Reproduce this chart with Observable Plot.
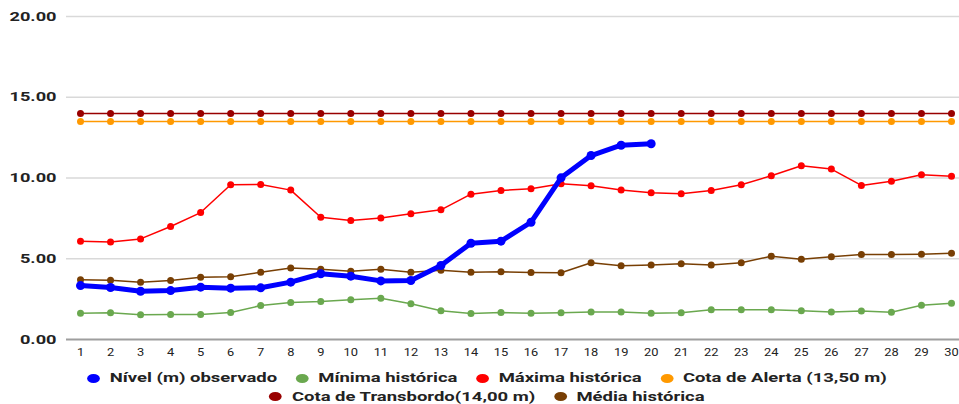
<!DOCTYPE html>
<html>
<head>
<meta charset="utf-8">
<script src="https://cdn.jsdelivr.net/npm/d3@7"></script>
<script src="https://cdn.jsdelivr.net/npm/@observablehq/plot@0.6"></script>
<style>
  html, body { margin: 0; padding: 0; background: #fff; }
  body { width: 959px; height: 404px; overflow: hidden; font-family: Roboto, "Noto Sans", sans-serif; }
  #chart svg { display: block; }
  .legend { width: 959px; text-align: center; font-weight: 700; font-size: 13px; color: #222; line-height: 18px;
            padding-top: 7px; transform: scaleX(1.42); transform-origin: 462px 0; }
  .legend .row { white-space: nowrap; }
  .legend .item { display: inline-flex; align-items: center; margin: 0 6.5px; }
  .legend .sw { width: 9px; height: 9px; border-radius: 50%; margin-right: 7px; display: inline-block; }
</style>
</head>
<body>
<div id="chart"></div>
<div class="legend" id="legend"></div>
<script>
const days = [1,2,3,4,5,6,7,8,9,10,11,12,13,14,15,16,17,18,19,20,21,22,23,24,25,26,27,28,29,30];
const observado = [3.34,3.22,2.99,3.03,3.24,3.18,3.20,3.55,4.07,3.92,3.63,3.65,4.58,5.96,6.09,7.26,10.01,11.39,12.03,12.12];
const minima = [1.63,1.65,1.53,1.55,1.55,1.67,2.10,2.29,2.35,2.46,2.56,2.21,1.78,1.61,1.67,1.63,1.65,1.71,1.71,1.63,1.65,1.84,1.84,1.84,1.78,1.71,1.76,1.69,2.12,2.25];
const maxima = [6.09,6.03,6.23,7.00,7.86,9.58,9.60,9.25,7.57,7.37,7.53,7.78,8.03,9.00,9.23,9.33,9.64,9.52,9.25,9.08,9.02,9.23,9.58,10.14,10.76,10.55,9.54,9.80,10.20,10.11];
const media = [3.70,3.67,3.55,3.65,3.86,3.88,4.17,4.42,4.35,4.23,4.35,4.17,4.29,4.17,4.19,4.15,4.13,4.75,4.56,4.62,4.69,4.62,4.75,5.16,4.97,5.12,5.26,5.26,5.28,5.34];
const cotaAlerta = 13.5;
const cotaTransbordo = 14.0;
const yTicks = [0, 5, 10, 15, 20];

const seriesNames = ["Nível (m) observado", "Mínima histórica", "Máxima histórica", "Cota de Alerta (13,50 m)", "Cota de Transbordo(14,00 m)", "Média histórica"];
const seriesColors = ["#0000ff", "#6aa84f", "#ff0000", "#ff9900", "#990000", "#783f04"];

function rows(values) { return values.map((v, i) => ({day: days[i], value: v})); }
const tables = {
  obs: rows(observado),
  min: rows(minima),
  max: rows(maxima),
  med: rows(media),
  alerta: rows(days.map(() => cotaAlerta)),
  transb: rows(days.map(() => cotaTransbordo))
};

function series(data, color, sw, r) {
  return [
    Plot.line(data, {x: "day", y: "value", stroke: color, strokeWidth: sw}),
    Plot.dot(data, {x: "day", y: "value", fill: color, r: r})
  ];
}

const chart = Plot.plot({
  width: 959,
  height: 362,
  marginLeft: 66,
  marginRight: 0,
  marginTop: 16,
  marginBottom: 23,
  style: {fontFamily: "Roboto, sans-serif", color: "#222"},
  x: {type: "linear", domain: [1, 30], insetLeft: 14, insetRight: 8, label: null},
  y: {domain: [0, 20], label: null},
  marks: [
    Plot.ruleY(yTicks.filter(d => d > 0), {stroke: "#d9d9d9", strokeWidth: 1.5}),
    Plot.ruleY([0], {stroke: "#9e9e9e", strokeWidth: 2}),
    Plot.axisY(yTicks, {tickSize: 0, tickPadding: 10, tickFormat: d3.format(".2f"), fontSize: 13, fontWeight: 700, fill: "#222", className: "yax"}),
    Plot.axisX(days, {tickSize: 0, tickPadding: 8, tickFormat: d => String(d), fontSize: 11.5, fill: "#222", className: "xax"}),
    ...series(tables.transb, seriesColors[4], 1.5, 3.5),
    ...series(tables.alerta, seriesColors[3], 1.5, 3.5),
    ...series(tables.min, seriesColors[1], 1.5, 3.5),
    ...series(tables.max, seriesColors[2], 1.5, 3.5),
    ...series(tables.med, seriesColors[5], 1.5, 3.5),
    ...series(tables.obs, seriesColors[0], 5, 4.5)
  ]
});
// the reference's text is horizontally stretched; widen the tick labels
chart.querySelectorAll("g.yax text").forEach(t => {
  t.setAttribute("transform", (t.getAttribute("transform") || "") + " scale(1.4,1)");
});
chart.querySelectorAll("g.xax text").forEach(t => {
  t.setAttribute("transform", (t.getAttribute("transform") || "") + " scale(1.12,1)");
});
document.getElementById("chart").append(chart);

const legend = document.getElementById("legend");
const rowsDef = [[0, 1, 2, 3], [4, 5]];
for (const r of rowsDef) {
  const row = document.createElement("div");
  row.className = "row";
  for (const i of r) {
    const item = document.createElement("span");
    item.className = "item";
    const sw = document.createElement("span");
    sw.className = "sw";
    sw.style.background = seriesColors[i];
    item.append(sw, document.createTextNode(seriesNames[i]));
    row.append(item);
  }
  legend.append(row);
}
</script>
</body>
</html>
